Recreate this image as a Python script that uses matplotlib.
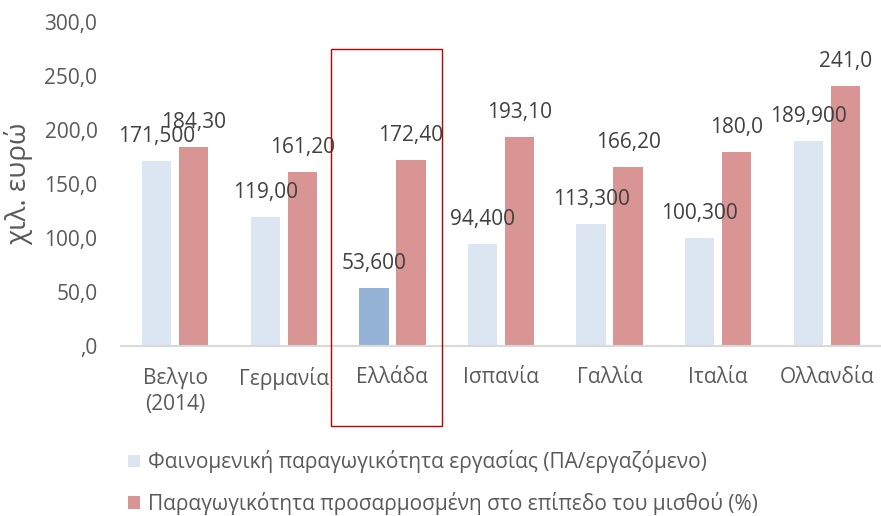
import matplotlib
matplotlib.use("Agg")
import matplotlib.pyplot as plt
from matplotlib.patches import Rectangle, Patch
import numpy as np

plt.rcParams["font.family"] = ["Open Sans", "DejaVu Sans"]

countries = ["Βελγιο\n(2014)", "Γερμανία", "Ελλάδα", "Ισπανία", "Γαλλία", "Ιταλία", "Ολλανδία"]
apparent = [171.5, 119.0, 53.6, 94.4, 113.3, 100.3, 189.9]
adjusted = [184.3, 161.2, 172.4, 193.1, 166.2, 180.0, 241.0]
apparent_labels = ["171,500", "119,00", "53,600", "94,400", "113,300", "100,300", "189,900"]
adjusted_labels = ["184,30", "161,20", "172,40", "193,10", "166,20", "180,0", "241,0"]
y_ticks = [0, 50, 100, 150, 200, 250, 300]
y_tick_labels = [",0", "50,0", "100,0", "150,0", "200,0", "250,0", "300,0"]

legend_names = [
    "Φαινομενική παραγωγικότητα εργασίας (ΠΑ/εργαζόμενο)",
    "Παραγωγικότητα προσαρμοσμένη στο επίπεδο του μισθού (%)",
]

light_blue = "#DCE6F2"
greece_blue = "#95B3D7"
red = "#D99594"
grey_text = "#595959"
dark_text = "#404040"

W, H = 881, 516
fig = plt.figure(figsize=(W / 100, H / 100), dpi=100)
ax = fig.add_axes([121 / W, (H - 346) / H, (W - 121) / W, (346 - 22) / H])

x = np.arange(len(countries))
width = 0.27
offset = 0.17

blue_colors = [greece_blue if c == "Ελλάδα" else light_blue for c in countries]
b1 = ax.bar(x - offset, apparent, width, color=blue_colors)
b2 = ax.bar(x + offset, adjusted, width, color=red)

for rect, lab in zip(b1, apparent_labels):
    ax.annotate(lab, (rect.get_x() + rect.get_width() / 2, rect.get_height()),
                xytext=(0, 19), textcoords="offset pixels",
                ha="center", va="baseline", fontsize=15, color=dark_text)
for rect, lab in zip(b2, adjusted_labels):
    ax.annotate(lab, (rect.get_x() + rect.get_width() / 2, rect.get_height()),
                xytext=(0, 19), textcoords="offset pixels",
                ha="center", va="baseline", fontsize=15, color=dark_text)

ax.set_xlim(-0.5, len(countries) - 0.5)
ax.set_ylim(0, 300)
ax.set_yticks(y_ticks)
ax.set_yticklabels(y_tick_labels, fontsize=15, color=grey_text)
ax.set_xticks(x)
ax.set_xticklabels(countries, fontsize=15, color=grey_text, linespacing=1.3)
ax.tick_params(axis="both", length=0)
ax.tick_params(axis="x", pad=15)
ax.tick_params(axis="y", pad=17)

for side in ["top", "right", "left"]:
    ax.spines[side].set_visible(False)
ax.spines["bottom"].set_color("#D9D9D9")
ax.spines["bottom"].set_linewidth(1.5)

ax.set_ylabel("χιλ. ευρώ", fontsize=20, color=grey_text, labelpad=8)

# highlight box around Greece
fig.add_artist(Rectangle((331 / W, (H - 426) / H), 111 / W, 377 / H,
                         transform=fig.transFigure, fill=False,
                         edgecolor="#C00000", linewidth=1))

handles = [Patch(facecolor=light_blue, edgecolor="none"),
           Patch(facecolor=red, edgecolor="none")]
fig.legend(handles, legend_names, loc="upper left",
           bbox_to_anchor=(120 / W, (H - 442) / H),
           frameon=False, fontsize=15, labelcolor=grey_text,
           handlelength=0.55, handleheight=0.55, handletextpad=0.4,
           labelspacing=0.9, borderaxespad=0)

fig.savefig("out.png", dpi=100)
